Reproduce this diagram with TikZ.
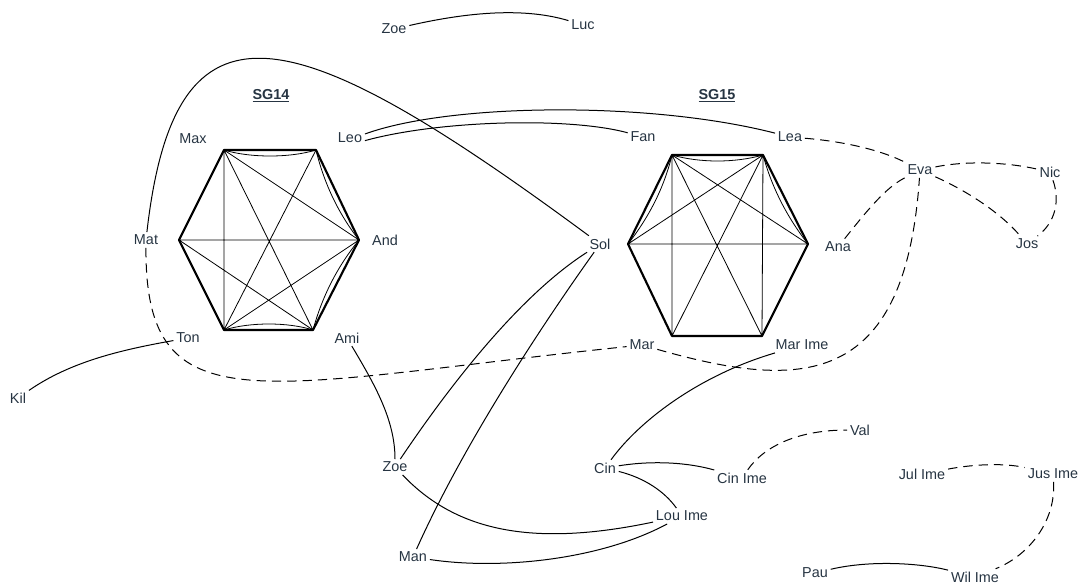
\documentclass[tikz,border=0pt]{standalone}
\usepackage{fontspec}
\setmainfont{Liberation Sans}
\usepackage{tikz}

\begin{document}
\begin{tikzpicture}[x=0.75pt,y=0.75pt,yscale=-1,xscale=1,
  lbl/.style={text={rgb,255:red,38;green,52;blue,66}, inner sep=2pt, font=\fontsize{10.8}{13}\selectfont},
  rim/.style={line width=1.6pt, line join=round},
  chord/.style={line width=0.6pt},
  link/.style={line width=0.75pt},
  dlink/.style={line width=0.75pt, dash pattern=on 7pt off 4.5pt}]
\useasboundingbox (0,0) rectangle (1090,585);

%Hexagon SG14
\coordinate (a1) at (224,150);
\coordinate (a2) at (316,150);
\coordinate (a3) at (359,240);
\coordinate (a4) at (313,330);
\coordinate (a5) at (224,330);
\coordinate (a6) at (179,240);
\draw [rim] (a1) -- (a2) -- (a3) -- (a4) -- (a5) -- (a6) -- cycle ;
\draw [chord] (a1) -- (a3) (a1) -- (a4) (a1) -- (a5) (a2) -- (a5) (a3) -- (a5) (a3) -- (a6) (a4) -- (a6) ;
\draw [chord] (a1) .. controls (250,158) and (290,158) .. (a2) ;
\draw [chord] (a2) .. controls (324,183) and (338,213) .. (a3) ;
\draw [chord] (a3) .. controls (337,267) and (322,297) .. (a4) ;
\draw [chord] (a5) .. controls (250,322) and (288,322) .. (a4) ;

%Hexagon SG15
\coordinate (b1) at (672,155);
\coordinate (b2) at (763,155);
\coordinate (b3) at (808,244);
\coordinate (b4) at (762,336);
\coordinate (b5) at (672,336);
\coordinate (b6) at (628,244);
\draw [rim] (b1) -- (b2) -- (b3) -- (b4) -- (b5) -- (b6) -- cycle ;
\draw [chord] (b1) -- (b5) (b2) -- (b4) (b6) -- (b3) (b1) -- (b3) (b2) -- (b6) (b1) -- (b4) (b2) -- (b5) ;
\draw [chord] (b1) .. controls (700,163) and (735,163) .. (b2) ;
\draw [chord] (b1) .. controls (664,188) and (649,217) .. (b6) ;
\draw [chord] (b2) .. controls (772,188) and (787,217) .. (b3) ;

% Text Node
\node [lbl] (zoet) at (394,29) {Zoe};
% Text Node
\node [lbl] (luc) at (583,25) {Luc};
% Text Node
\node [lbl, font=\fontsize{10.8}{13}\selectfont\bfseries] (sga) at (271,96) {\underline{SG14}};
% Text Node
\node [lbl, font=\fontsize{10.8}{13}\selectfont\bfseries] (sgb) at (717,96) {\underline{SG15}};
% Text Node
\node [lbl] (max) at (193,139) {Max};
% Text Node
\node [lbl] (leo) at (350,138) {Leo};
% Text Node
\node [lbl] (mat) at (146,240) {Mat};
% Text Node
\node [lbl] (and) at (385,240) {And};
% Text Node
\node [lbl] (ton) at (188,338) {Ton};
% Text Node
\node [lbl] (ami) at (347,338) {Ami};
% Text Node
\node [lbl] (fan) at (643,137) {Fan};
% Text Node
\node [lbl] (lea) at (790,137) {Lea};
% Text Node
\node [lbl] (sol) at (600,244) {Sol};
% Text Node
\node [lbl] (ana) at (838,247) {Ana};
% Text Node
\node [lbl] (mar) at (642,345) {Mar};
% Text Node
\node [lbl] (marime) at (802,345) {Mar Ime};
% Text Node
\node [lbl] (eva) at (920,170) {Eva};
% Text Node
\node [lbl] (nic) at (1050,172) {Nic};
% Text Node
\node [lbl] (jos) at (1027,244) {Jos};
% Text Node
\node [lbl] (kil) at (18,398) {Kil};
% Text Node
\node [lbl] (zoeb) at (395,467) {Zoe};
% Text Node
\node [lbl] (man) at (413,557) {Man};
% Text Node
\node [lbl] (cin) at (605,468) {Cin};
% Text Node
\node [lbl] (louime) at (682,516) {Lou Ime};
% Text Node
\node [lbl] (cinime) at (742,478) {Cin Ime};
% Text Node
\node [lbl] (val) at (860,430) {Val};
% Text Node
\node [lbl] (julime) at (922,474) {Jul Ime};
% Text Node
\node [lbl] (jusime) at (1053,474) {Jus Ime};
% Text Node
\node [lbl] (pau) at (815,573) {Pau};
% Text Node
\node [lbl] (wilime) at (975,577) {Wil Ime};

%Curve Lines
\draw [link] (zoet) .. controls (460,14) and (520,6) .. (luc) ;
\draw [link] (mat) .. controls (175,-15) and (290,15) .. (sol) ;
\draw [link] (leo.15) .. controls (450,103) and (650,101) .. (lea) ;
\draw [link] (leo.-10) .. controls (440,120) and (570,117) .. (fan) ;
\draw [link] (ton) .. controls (120,350) and (70,362) .. (kil) ;
\draw [link] (ami) .. controls (375,385) and (395,420) .. (zoeb) ;
\draw [link] (sol) .. controls (520,295) and (450,385) .. (zoeb) ;
\draw [link] (sol) .. controls (560,300) and (470,430) .. (man) ;
\draw [link] (zoeb) .. controls (455,530) and (530,548) .. (louime) ;
\draw [link] (man) .. controls (500,570) and (600,560) .. (louime) ;
\draw [link] (cin) .. controls (645,478) and (665,492) .. (louime) ;
\draw [link] (cin) .. controls (655,460) and (690,463) .. (cinime) ;
\draw [link] (cin) .. controls (640,420) and (700,375) .. (marime) ;
\draw [link] (pau) .. controls (870,560) and (920,563) .. (wilime) ;

%Dashed Lines
\draw [dlink] (mat) .. controls (145,430) and (260,385) .. (mar) ;
\draw [dlink] (mar) .. controls (800,390) and (905,390) .. (eva) ;
\draw [dlink] (lea) .. controls (850,142) and (885,152) .. (eva) ;
\draw [dlink] (eva) .. controls (970,160) and (1010,163) .. (nic) ;
\draw [dlink] (eva) .. controls (965,190) and (1000,212) .. (jos) ;
\draw [dlink] (nic) .. controls (1060,200) and (1056,222) .. (jos) ;
\draw [dlink] (eva) .. controls (885,188) and (866,212) .. (ana) ;
\draw [dlink] (cinime) .. controls (765,445) and (800,430) .. (val) ;
\draw [dlink] (julime) .. controls (975,464) and (1005,463) .. (jusime) ;
\draw [dlink] (jusime) .. controls (1056,520) and (1030,555) .. (wilime) ;

\end{tikzpicture}
\end{document}
